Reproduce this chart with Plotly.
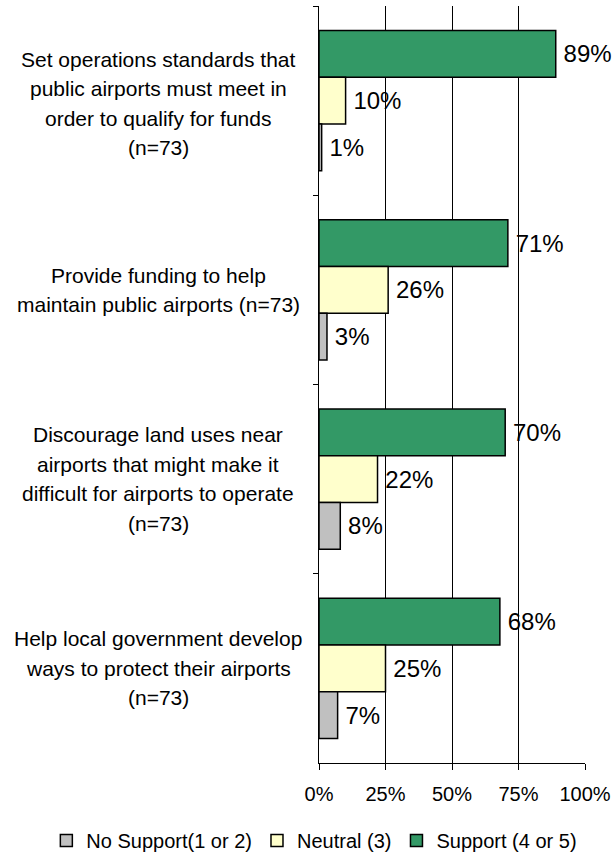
import plotly.graph_objects as go

# Survey items (each line of the label kept separately so it can be centred)
item_lines = [
    ["Set operations standards that", "public airports must meet in",
     "order to qualify for funds", "(n=73)"],
    ["Provide funding to help", "maintain public airports (n=73)"],
    ["Discourage land uses near", "airports that might make it",
     "difficult for airports to operate", "(n=73)"],
    ["Help local government develop", "ways to protect their airports",
     "(n=73)"],
]
categories = ["<br>".join(lines) for lines in item_lines]

# Percent of respondents per rating group
support = [89, 71, 70, 68]
neutral = [10, 26, 22, 25]
no_support = [1, 3, 8, 7]

x_ticks = [0, 25, 50, 75, 100]

FONT = "Arial, 'Liberation Sans', sans-serif"
EDGE = dict(color="black", width=1.5)

series = [
    ("Support (4 or 5)", support, "#339966"),
    ("Neutral (3)", neutral, "#FFFFCC"),
    ("No Support(1 or 2)", no_support, "#C0C0C0"),
]

fig = go.Figure()
for name, vals, color in series:
    fig.add_trace(go.Bar(
        name=name,
        y=categories,
        x=vals,
        orientation="h",
        marker=dict(color=color, line=EDGE),
        text=[f"\u2009{v}%" for v in vals],
        textposition="outside",
        textfont=dict(family=FONT, size=24, color="black"),
        cliponaxis=False,
    ))

# Category labels, one annotation per line, centred in the left margin
LINE_STEP = 29.5
for k, (cat, lines) in enumerate(zip(categories, item_lines)):
    n = len(lines)
    nudge = -3 if k == 0 else 0
    for i, line in enumerate(lines):
        fig.add_annotation(
            x=-0.605, xref="paper", xanchor="center",
            y=cat, yref="y", yanchor="middle",
            yshift=((n - 1) / 2 - i) * LINE_STEP + nudge,
            text=line, showarrow=False,
            font=dict(family=FONT, size=21, color="black"),
        )

fig.update_layout(
    width=613, height=855,
    margin=dict(l=319, r=28, t=6, b=92, autoexpand=False),
    paper_bgcolor="white",
    plot_bgcolor="white",
    barmode="group",
    bargap=0.26,
    bargroupgap=0,
    font=dict(family=FONT, size=20, color="black"),
    showlegend=True,
    legend=dict(
        orientation="h",
        traceorder="reversed",
        xref="paper", x=-1.025, xanchor="left",
        yref="paper", y=-0.1281, yanchor="bottom",
        font=dict(family=FONT, size=20, color="black"),
        itemwidth=30,
        tracegroupgap=0,
    ),
)

fig.update_xaxes(
    range=[0, 100],
    tickvals=x_ticks,
    ticktext=[f"{t}%" for t in x_ticks],
    showgrid=True, gridcolor="black", gridwidth=1,
    zeroline=False,
    showline=True, linecolor="black", linewidth=1,
    ticks="outside", ticklen=6, tickcolor="black",
    ticklabelstandoff=7,
    tickfont=dict(family=FONT, size=20, color="black"),
    automargin=False,
)

fig.update_yaxes(
    autorange="reversed",
    showticklabels=False,
    showgrid=False,
    showline=True, linecolor="black", linewidth=1,
    ticks="outside", ticklen=5, tickcolor="black",
    tickson="boundaries",
    automargin=False,
)

fig.write_html("out.html")
